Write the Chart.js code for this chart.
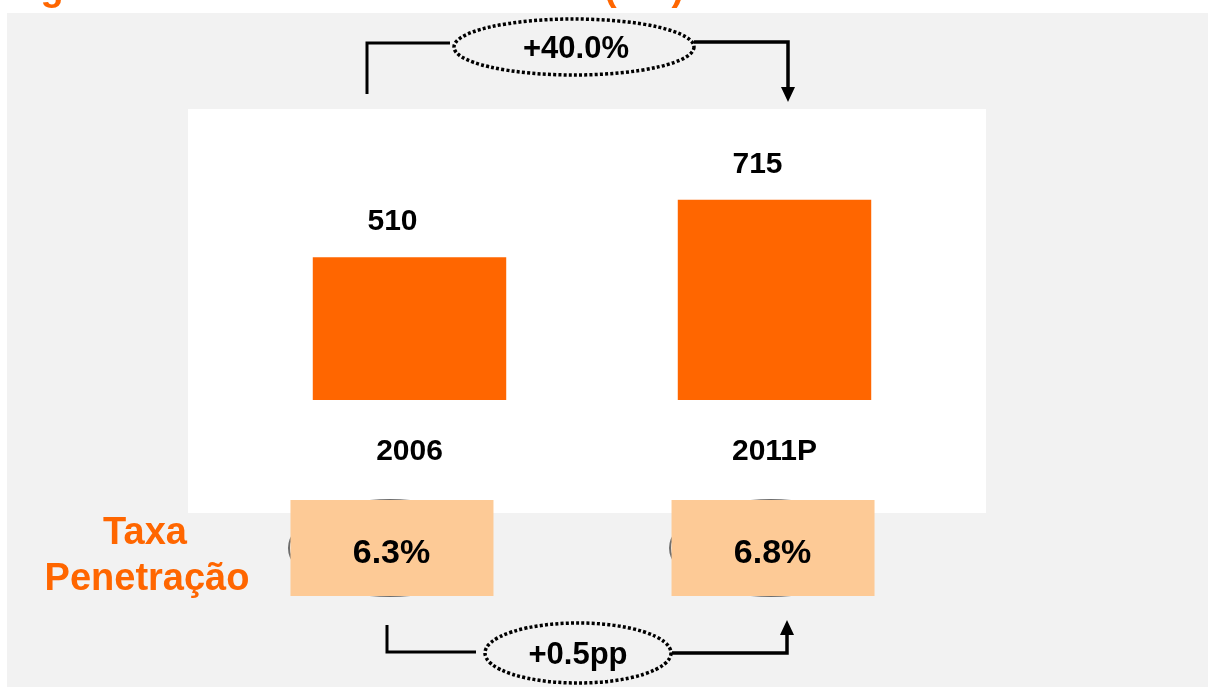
<!DOCTYPE html>
<html>
<head>
<meta charset="utf-8">
<script src="https://cdn.jsdelivr.net/npm/chart.js@4.4.0/dist/chart.umd.min.js"></script>
<style>
    html, body { margin: 0; padding: 0; background: #ffffff; }
    #wrap { width: 1208px; height: 687px; position: relative; }
</style>
</head>
<body>
<div id="wrap"><canvas id="mercadoChart" width="1208" height="687"></canvas></div>
<script>
/* ========= DATA ========= */
var years = ['2006', '2011P'];
var valores = [510, 715];
var penetracao = ['6.3%', '6.8%'];
var crescimento = '+40.0%';
var variacaoPen = '+0.5pp';

var FONT = '"Liberation Sans", Arial, sans-serif';
var ORANGE = '#ff6600';

/* ========= HELPERS ========= */
function dottedEllipse(ctx, cx, cy, rx, ry) {
    ctx.save();
    ctx.beginPath();
    ctx.ellipse(cx, cy, rx, ry, 0, 0, Math.PI * 2);
    ctx.setLineDash([3, 2.2]);
    ctx.lineWidth = 3.5;
    ctx.strokeStyle = '#000';
    ctx.stroke();
    ctx.restore();
}

function polyline(ctx, pts, w) {
    ctx.beginPath();
    ctx.moveTo(pts[0][0], pts[0][1]);
    for (var i = 1; i < pts.length; i++) ctx.lineTo(pts[i][0], pts[i][1]);
    ctx.lineWidth = w;
    ctx.strokeStyle = '#000';
    ctx.lineJoin = 'miter';
    ctx.stroke();
}

function arrowHead(ctx, x, tipY, dir) {
    // dir = 1 pointing down, -1 pointing up
    ctx.beginPath();
    ctx.moveTo(x, tipY);
    ctx.lineTo(x - 7, tipY - dir * 15);
    ctx.lineTo(x + 7, tipY - dir * 15);
    ctx.closePath();
    ctx.fillStyle = '#000';
    ctx.fill();
}

/* ========= BACKGROUND + FRAME ========= */
var backdrop = {
    id: 'backdrop',
    beforeDraw: function (chart) {
        var ctx = chart.ctx;
        ctx.save();
        ctx.fillStyle = '#ffffff';
        ctx.fillRect(0, 0, chart.width, chart.height);
        ctx.fillStyle = '#f2f2f2';
        ctx.fillRect(7, 13, chart.width - 7, chart.height - 13);
        ctx.fillStyle = '#ffffff';
        ctx.fillRect(188, 109, 798, 404);

        // clipped title (only descenders show)
        ctx.fillStyle = ORANGE;
        ctx.font = 'bold 38px ' + FONT;
        ctx.textBaseline = 'alphabetic';
        ctx.textAlign = 'left';
        ctx.fillText('Segmento de Mercado Brasileiro', -6, 0);
        ctx.fillText('(mil)', 604, 0);
        ctx.restore();
    }
};

/* ========= LABELS + ANNOTATIONS ========= */
var annotations = {
    id: 'annotations',
    afterDatasetsDraw: function (chart) {
        var ctx = chart.ctx;
        var bars = chart.getDatasetMeta(0).data;
        var area = chart.chartArea;
        var mid = (area.left + area.right) / 2;
        ctx.save();

        // value labels above bars
        ctx.fillStyle = '#000';
        ctx.font = 'bold 30px ' + FONT;
        ctx.textAlign = 'center';
        ctx.textBaseline = 'alphabetic';
        bars.forEach(function (b, i) {
            ctx.fillText(String(valores[i]), b.x - 17, b.y - 27);
        });

        // penetration boxes
        bars.forEach(function (b, i) {
            var cx = b.x + (b.x - mid) * 0.044 - 10;
            ctx.beginPath();
            ctx.ellipse(cx - 1.5, 548, 101, 48, 0, 0, Math.PI * 2);
            ctx.lineWidth = 2;
            ctx.strokeStyle = '#6e6e6e';
            ctx.stroke();
            ctx.fillStyle = '#fdca96';
            ctx.fillRect(cx - 101, 500, 203, 96);
            ctx.fillStyle = '#000';
            ctx.font = 'bold 34px ' + FONT;
            ctx.fillText(penetracao[i], cx, 563);
        });

        // side label
        ctx.fillStyle = ORANGE;
        ctx.font = 'bold 38px ' + FONT;
        ctx.fillText('Taxa', 145, 544);
        ctx.fillText('Penetração', 147, 590);

        // top growth connector
        polyline(ctx, [[367, 94], [367, 43], [450, 43]], 3);
        polyline(ctx, [[694, 42], [788, 42], [788, 88]], 3.5);
        arrowHead(ctx, 788, 102, 1);
        dottedEllipse(ctx, 574, 47, 120, 28);
        ctx.fillStyle = '#000';
        ctx.font = 'bold 31px ' + FONT;
        ctx.fillText(crescimento, 576, 58);

        // bottom connector
        polyline(ctx, [[387, 625], [387, 652], [476, 652]], 3);
        polyline(ctx, [[672, 653], [787, 653], [787, 634]], 3.5);
        arrowHead(ctx, 787, 620, -1);
        dottedEllipse(ctx, 578, 653, 93, 30);
        ctx.fillStyle = '#000';
        ctx.font = 'bold 31px ' + FONT;
        ctx.fillText(variacaoPen, 578, 664);

        ctx.restore();
    }
};

/* ========= CHART ========= */
var canvas = document.getElementById('mercadoChart');

new Chart(canvas.getContext('2d'), {
    type: 'bar',
    data: {
        labels: years,
        datasets: [{
            data: valores,
            backgroundColor: ORANGE,
            borderWidth: 0,
            barPercentage: 0.53,
            categoryPercentage: 1
        }]
    },
    options: {
        responsive: false,
        animation: false,
        layout: { padding: { left: 227, right: 251, top: 120, bottom: 227 } },
        plugins: { legend: { display: false }, tooltip: { enabled: false } },
        scales: {
            x: {
                grid: { display: false, drawTicks: false, tickLength: 0 },
                border: { display: false },
                ticks: {
                    color: '#000',
                    padding: 34,
                    font: { family: FONT, size: 30, weight: 'bold' }
                },
                afterFit: function (s) { s.height = 60; }
            },
            y: {
                display: false,
                min: 0,
                max: 1000
            }
        }
    },
    plugins: [backdrop, annotations]
});
</script>
</body>
</html>
